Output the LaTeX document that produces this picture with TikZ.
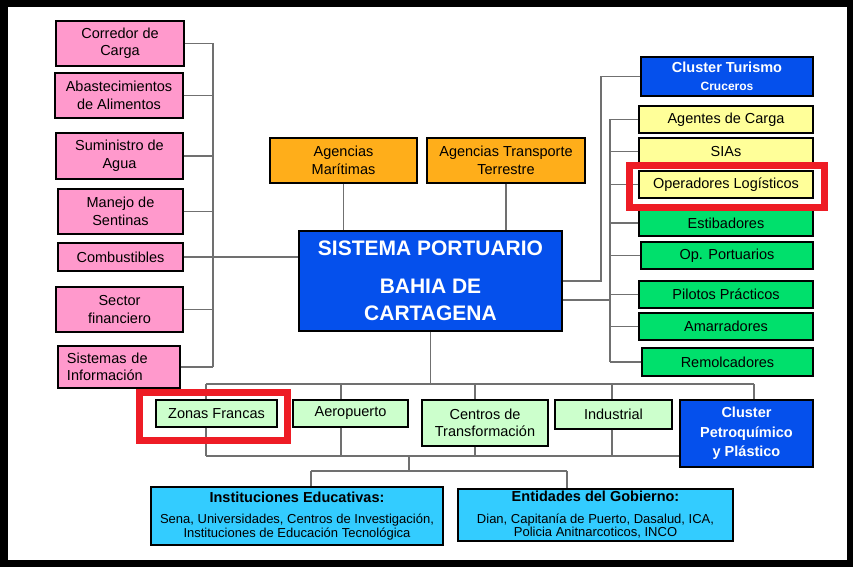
\documentclass[tikz,border=0pt]{standalone}
\usepackage{fontspec}
\setmainfont{Liberation Sans}
\usetikzlibrary{calc}
\definecolor{pinkc}{HTML}{FF99CC}
\definecolor{orangec}{HTML}{FFAE1A}
\definecolor{bluec}{HTML}{0550EC}
\definecolor{yellowc}{HTML}{FFFF99}
\definecolor{greenc}{HTML}{00E06C}
\definecolor{lgreenc}{HTML}{CCFFCC}
\definecolor{cyanc}{HTML}{33CCFF}
\definecolor{linec}{HTML}{707070}
\definecolor{redc}{HTML}{EE1C25}
\tikzset{
  box/.style={draw=black, line width=1.4bp, inner sep=0pt, align=center,
    font=\fontsize{14.5bp}{17.5bp}\selectfont},
  pinkbox/.style={box, fill=pinkc},
  orangebox/.style={box, fill=orangec},
  bluebox/.style={box, fill=bluec, text=white, font=\fontsize{14.5bp}{19.5bp}\selectfont\bfseries},
  yellowbox/.style={box, fill=yellowc},
  greenbox/.style={box, fill=greenc},
  lgreenbox/.style={box, fill=lgreenc},
  cyanbox/.style={box, fill=cyanc},
  conn/.style={draw=linec, line width=1.4bp},
  hilite/.style={draw=redc, line width=7bp},
}
\newcommand{\mkbox}[7]{\node[#6, minimum width={(#4-#2)*1bp}, minimum height={(#5-#3)*1bp}] (#1) at ({(#2+#4)/2},{(#3+#5)/2}) {#7};}
\begin{document}
\begin{tikzpicture}[x=1bp,y=-1bp]
\useasboundingbox (0,0) rectangle (853,567);
\fill[black] (0,0) rectangle (853,567);
\fill[white] (8,7) rectangle (847,560);

% left pink boxes
\mkbox{p1}{56}{21}{184}{66}{pinkbox}{Corredor de\\Carga}
\mkbox{p2}{55}{73}{183}{118}{pinkbox}{Abastecimientos\\de Alimentos}
\mkbox{p3}{56}{133}{183}{179}{pinkbox}{Suministro de\\Agua}
\mkbox{p4}{58}{189}{183}{234}{pinkbox}{Manejo de\\Sentinas}
\mkbox{p5}{58}{243}{183}{271}{pinkbox}{Combustibles}
\mkbox{p6}{56}{287}{183}{332}{pinkbox}{Sector\\financiero}
\mkbox{p7}{58}{346}{180}{388}{pinkbox, text width=104bp, align=left}{Sistemas de\\Información}

% top orange boxes
\mkbox{am}{270}{138}{417}{183}{orangebox}{Agencias\\Marítimas}
\mkbox{att}{427}{138}{585}{183}{orangebox}{Agencias Transporte\\Terrestre}

% central box
\mkbox{sp}{299}{231}{562}{331}{bluebox, font=\fontsize{21bp}{27bp}\selectfont\bfseries}{SISTEMA PORTUARIO\\[11bp]BAHIA DE\\CARTAGENA}

% right boxes
\mkbox{ct}{641}{57}{813}{96}{bluebox, font=\fontsize{14.5bp}{18bp}\selectfont\bfseries}{Cluster Turismo\\{\fontsize{12bp}{14bp}\selectfont Cruceros}}
\mkbox{ag}{639}{106}{813}{133}{yellowbox}{Agentes de Carga}
\mkbox{sia}{639}{138}{813}{165}{yellowbox}{SIAs}
\mkbox{ol}{639}{171}{813}{198}{yellowbox}{Operadores Logísticos}
\mkbox{es}{639}{210}{813}{236}{greenbox}{Estibadores}
\mkbox{op}{641}{242}{813}{269}{greenbox}{Op. Portuarios}
\mkbox{pp}{639}{281}{813}{308}{greenbox}{Pilotos Prácticos}
\mkbox{ama}{639}{313}{813}{340}{greenbox}{Amarradores}
\mkbox{rm}{642}{348}{813}{376}{greenbox}{Remolcadores}

% bottom row
\mkbox{zf}{156}{400}{277}{427}{lgreenbox}{Zonas Francas}
\mkbox{ae}{293}{400}{408}{427}{lgreenbox}{Aeropuerto}
\mkbox{ctr}{422}{400}{548}{446}{lgreenbox}{Centros de\\Transformación}
\mkbox{ind}{555}{400}{672}{429}{lgreenbox}{Industrial}
\mkbox{cp}{680}{400}{813}{467}{bluebox}{Cluster\\Petroquímico\\y Plástico}

\mkbox{ie}{151}{487}{443}{545}{cyanbox, font=\fontsize{13bp}{14bp}\selectfont}{{\fontsize{14.5bp}{14bp}\selectfont\bfseries Instituciones Educativas:}\\[7bp]Sena, Universidades, Centros de Investigación,\\Instituciones de Educación Tecnológica}
\mkbox{eg}{458}{489}{733}{541}{cyanbox, font=\fontsize{13bp}{10bp}\selectfont}{{\fontsize{14.5bp}{14bp}\selectfont\bfseries Entidades del Gobierno:}\\[12bp]Dian, Capitanía de Puerto, Dasalud, ICA,\\Policia Anitnarcoticos, INCO}

% left connectors
\coordinate (lbx) at (213,0);
\foreach \b in {p1,p2,p3,p4,p5,p6,p7}{\draw[conn] (\b.east) -- (\b.east -| lbx);}
\draw[conn] (p1.east -| lbx) -- (p7.east -| lbx);
\draw[conn] (p5.east -| lbx) -- (p5.east -| sp.west);

% top connectors
\draw[conn] (am.south) -- (am.south |- sp.north);
\draw[conn] (att.south) -- (att.south |- sp.north);

% right connectors
\coordinate (r1x) at (601,0);
\draw[conn] (sp.east) -- (sp.east -| r1x) |- (ct.west);
\coordinate (r2) at ([yshift=-19bp]sp.east);
\coordinate (r2x) at (610,0);
\draw[conn] (r2) -- (r2 -| r2x);
\draw[conn] (ag.west -| r2x) -- (rm.west -| r2x);
\foreach \b in {ag,sia,ol,es,op,pp,ama,rm}{\draw[conn] (\b.west) -- (\b.west -| r2x);}

% bottom connectors
\coordinate (tbl) at (206,384);
\coordinate (tbr) at (754,384);
\coordinate (bby) at (0,456);
\draw[conn] (sp.south) -- (sp.south |- tbl);
\draw[conn] (tbl) -- (tbr);
\draw[conn] (tbr) -- (tbr |- cp.north);
\coordinate (d1) at (206,384);
\coordinate (d2) at (341,384);
\coordinate (d3) at (475,384);
\coordinate (d4) at (612,384);
\draw[conn] (d1) -- (d1 |- zf.north);  \draw[conn] (d1 |- zf.south) -- (d1 |- bby);
\draw[conn] (d2) -- (d2 |- ae.north);  \draw[conn] (d2 |- ae.south) -- (d2 |- bby);
\draw[conn] (d3) -- (d3 |- ctr.north); \draw[conn] (d3 |- ctr.south) -- (d3 |- bby);
\draw[conn] (d4) -- (d4 |- ind.north); \draw[conn] (d4 |- ind.south) -- (d4 |- bby);
\draw[conn] (d1 |- bby) -- (cp.west |- bby);
\coordinate (m1) at (409,456);
\coordinate (m2) at (409,471);
\coordinate (el) at (311,471);
\coordinate (er) at (567,471);
\draw[conn] (m1) -- (m2);
\draw[conn] (el) -- (er);
\draw[conn] (el) -- (el |- ie.north);
\draw[conn] (er) -- (er |- eg.north);

% red highlights
\draw[hilite] (629.5,165.5) rectangle (824.5,207.5);
\draw[hilite] (139.5,392.5) rectangle (287.5,440.5);
\end{tikzpicture}
\end{document}
